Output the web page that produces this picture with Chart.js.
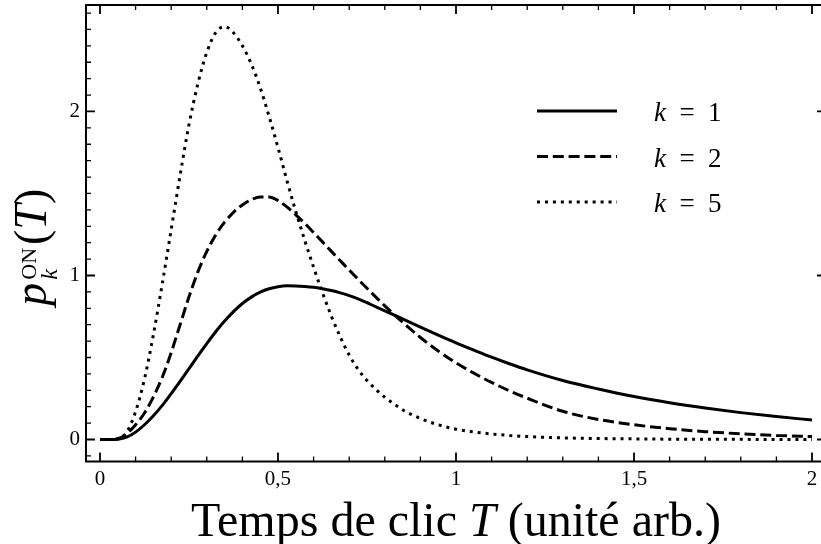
<!DOCTYPE html>
<html>
<head>
  <title>p_k ON (T)</title>
  <script src="https://cdn.jsdelivr.net/npm/chart.js"></script>
  <style>
    html, body { margin: 0; padding: 0; overflow: hidden; background: #fff; }
  </style>
</head>
<body>
  <canvas id="on-chart" width="830" height="544"></canvas>
  <script>
    // temps de clic T (unite arb.)
    const T = [0, 0.025, 0.05, 0.075, 0.1, 0.125, 0.15, 0.175, 0.2, 0.225, 0.25, 0.275, 0.3, 0.325, 0.35, 0.375,
      0.4, 0.425, 0.45, 0.475, 0.5, 0.525, 0.55, 0.575, 0.6, 0.625, 0.65, 0.675, 0.7, 0.725, 0.75, 0.775, 0.8,
      0.85, 0.9, 0.95, 1.0, 1.05, 1.1, 1.15, 1.2, 1.3, 1.4, 1.5, 1.6, 1.7, 1.8, 1.9, 2.0];
    // p_k^ON(T)
    const k1 = [0, 0, 0.002, 0.014, 0.045, 0.09, 0.145, 0.208, 0.28, 0.355, 0.432, 0.51, 0.585, 0.657, 0.722, 0.78,
      0.829, 0.868, 0.898, 0.919, 0.9315, 0.937, 0.9365, 0.9335, 0.928, 0.919, 0.908, 0.894, 0.877, 0.857, 0.834, 0.809, 0.785,
      0.735, 0.685, 0.636, 0.589, 0.545, 0.502, 0.462, 0.425, 0.36, 0.308, 0.262, 0.224, 0.192, 0.164, 0.14, 0.119];
    const k2 = [0, 0, 0.005, 0.035, 0.09, 0.162, 0.26, 0.38, 0.53, 0.70, 0.87, 1.022, 1.147, 1.247, 1.325, 1.385,
      1.43, 1.462, 1.479, 1.479, 1.457, 1.418, 1.37, 1.318, 1.262, 1.205, 1.147, 1.09, 1.033, 0.977, 0.922, 0.868, 0.815,
      0.715, 0.622, 0.54, 0.468, 0.405, 0.348, 0.297, 0.252, 0.172, 0.122, 0.09, 0.066, 0.048, 0.035, 0.025, 0.018];
    const k5 = [0, 0, 0.004, 0.045, 0.17, 0.37, 0.64, 0.95, 1.28, 1.61, 1.92, 2.17, 2.36, 2.48, 2.517, 2.48,
      2.40, 2.29, 2.145, 1.97, 1.78, 1.58, 1.39, 1.215, 1.05, 0.895, 0.752, 0.625, 0.515, 0.428, 0.36, 0.305, 0.258,
      0.182, 0.128, 0.09, 0.063, 0.046, 0.034, 0.025, 0.018, 0.01, 0.006, 0.004, 0.002, 0.001, 0.001, 0, 0];
    const kValues = ['1', '2', '5'];
    const xTickValues = [0, 0.5, 1, 1.5, 2];
    const xTickLabels = ['0', '0,5', '1', '1,5', '2'];
    const yTickValues = [0, 1, 2];
    const yTickLabels = ['0', '1', '2'];

    const serif = "'Liberation Serif', 'DejaVu Serif', serif";
    const dashes = [[], [11, 4.8], [3, 4.95]];

    const datasets = [k1, k2, k5].map((vals, i) => ({
      label: 'k = ' + kValues[i],
      data: T.map((t, j) => ({ x: t, y: vals[j] })),
      borderColor: '#000',
      borderWidth: 3,
      borderDash: dashes[i],
      borderCapStyle: 'butt',
      pointRadius: 0,
      fill: false,
      cubicInterpolationMode: 'monotone'
    }));

    // frame with inward ticks, axis titles and legend
    const decorations = {
      id: 'decorations',
      afterDraw(chart) {
        const { ctx, chartArea: a, scales: { x, y } } = chart;
        ctx.save();
        ctx.strokeStyle = '#000';
        ctx.fillStyle = '#000';
        ctx.setLineDash([]);

        // minor ticks
        ctx.lineWidth = 1.3;
        ctx.beginPath();
        for (let i = 0; i <= 20; i++) {
          if (i % 5 === 0) continue;
          const px = x.getPixelForValue(i / 10);
          ctx.moveTo(px, a.bottom); ctx.lineTo(px, a.bottom - 5);
          ctx.moveTo(px, a.top); ctx.lineTo(px, a.top + 5);
        }
        for (let i = -1; i <= 26; i++) {
          if (i % 10 === 0) continue;
          const py = y.getPixelForValue(i / 10);
          ctx.moveTo(a.left, py); ctx.lineTo(a.left + 5, py);
          ctx.moveTo(a.right, py); ctx.lineTo(a.right - 5, py);
        }
        ctx.stroke();

        // major ticks
        ctx.lineWidth = 1.8;
        ctx.beginPath();
        xTickValues.forEach(v => {
          const px = x.getPixelForValue(v);
          ctx.moveTo(px, a.bottom); ctx.lineTo(px, a.bottom - 9);
          ctx.moveTo(px, a.top); ctx.lineTo(px, a.top + 9);
        });
        yTickValues.forEach(v => {
          const py = y.getPixelForValue(v);
          ctx.moveTo(a.left, py); ctx.lineTo(a.left + 9, py);
          ctx.moveTo(a.right, py); ctx.lineTo(a.right - 9, py);
        });
        ctx.stroke();

        ctx.lineWidth = 2;
        ctx.strokeRect(a.left, a.top, a.right - a.left, a.bottom - a.top);

        // x title: Temps de clic T (unite arb.)
        const big = 48;
        const parts = [
          ['Temps de clic ', 'normal'],
          ['T', 'italic'],
          [' (unité arb.)', 'normal']
        ];
        let total = 0;
        parts.forEach(p => { ctx.font = p[1] + ' ' + big + 'px ' + serif; total += ctx.measureText(p[0]).width; });
        let cx = (a.left + a.right) / 2 - total / 2;
        ctx.textBaseline = 'alphabetic';
        ctx.textAlign = 'left';
        parts.forEach(p => {
          ctx.font = p[1] + ' ' + big + 'px ' + serif;
          ctx.fillText(p[0], cx, 536);
          cx += ctx.measureText(p[0]).width;
        });

        // y title: p_k^ON(T)
        ctx.save();
        ctx.translate(46, (a.top + a.bottom) / 2 + 14);
        ctx.rotate(-Math.PI / 2);
        const main = 46, script = 22;
        ctx.font = 'italic ' + main + 'px ' + serif;
        const wp = ctx.measureText('p').width;
        ctx.font = 'normal ' + script + 'px ' + serif;
        const wOn = ctx.measureText('ON').width;
        ctx.font = 'normal ' + main + 'px ' + serif;
        const wPar = ctx.measureText('(').width;
        ctx.font = 'italic ' + main + 'px ' + serif;
        const wT = ctx.measureText('T').width;
        const w = wp + 3 + wOn + 3 + wPar * 2 + wT;
        let tx = -w / 2;
        ctx.font = 'italic ' + main + 'px ' + serif;
        ctx.fillText('p', tx, 0);
        tx += wp + 3;
        ctx.font = 'normal ' + script + 'px ' + serif;
        ctx.fillText('ON', tx, -10);
        ctx.font = 'italic ' + (script + 2) + 'px ' + serif;
        ctx.fillText('k', tx, 11);
        tx += wOn + 3;
        ctx.font = 'normal ' + main + 'px ' + serif;
        ctx.fillText('(', tx, 0);
        tx += wPar;
        ctx.font = 'italic ' + main + 'px ' + serif;
        ctx.fillText('T', tx, 0);
        tx += wT;
        ctx.font = 'normal ' + main + 'px ' + serif;
        ctx.fillText(')', tx, 0);
        ctx.restore();

        // legend
        const lx = a.left + 451, ly = a.top + 106;
        chart.data.datasets.forEach((ds, i) => {
          const yy = ly + i * 45.5;
          ctx.lineWidth = ds.borderWidth;
          ctx.lineCap = 'butt';
          ctx.setLineDash(ds.borderDash);
          ctx.beginPath();
          ctx.moveTo(lx, yy); ctx.lineTo(lx + 80, yy);
          ctx.stroke();
          ctx.setLineDash([]);
          ctx.font = 'italic 27px ' + serif;
          ctx.fillText('k', lx + 117, yy + 10);
          ctx.font = 'normal 27px ' + serif;
          ctx.textAlign = 'center';
          ctx.fillText('=', lx + 150, yy + 10);
          ctx.textAlign = 'left';
          ctx.fillText(kValues[i], lx + 171, yy + 10);
        });
        ctx.restore();
      }
    };

    const tickFont = { family: serif, size: 21 };

    const ctx = document.getElementById('on-chart').getContext('2d');
    const onChart = new Chart(ctx, {
      type: 'line',
      data: { datasets: datasets },
      options: {
        responsive: false,
        animation: false,
        layout: { padding: { top: 5, right: 4, left: 0, bottom: 0 } },
        plugins: { legend: { display: false }, tooltip: { enabled: false } },
        scales: {
          x: {
            type: 'linear',
            min: -0.0393,
            max: 2.0393,
            grid: { display: false, drawTicks: false },
            border: { display: false },
            afterBuildTicks: s => { s.ticks = xTickValues.map(v => ({ value: v })); },
            afterFit: s => { s.height = 82.5; s.paddingLeft = 0; s.paddingRight = 0; },
            ticks: {
              autoSkip: false,
              maxRotation: 0,
              padding: 5,
              color: '#000',
              font: tickFont,
              callback: v => xTickLabels[xTickValues.indexOf(v)]
            }
          },
          y: {
            type: 'linear',
            min: -0.134,
            max: 2.649,
            grid: { display: false, drawTicks: false },
            border: { display: false },
            afterBuildTicks: s => { s.ticks = yTickValues.map(v => ({ value: v })); },
            afterFit: s => { s.width = 86; s.paddingTop = 0; s.paddingBottom = 0; },
            ticks: {
              autoSkip: false,
              padding: 6,
              color: '#000',
              font: tickFont,
              callback: v => yTickLabels[yTickValues.indexOf(v)]
            }
          }
        }
      },
      plugins: [decorations]
    });
  </script>
</body>
</html>
